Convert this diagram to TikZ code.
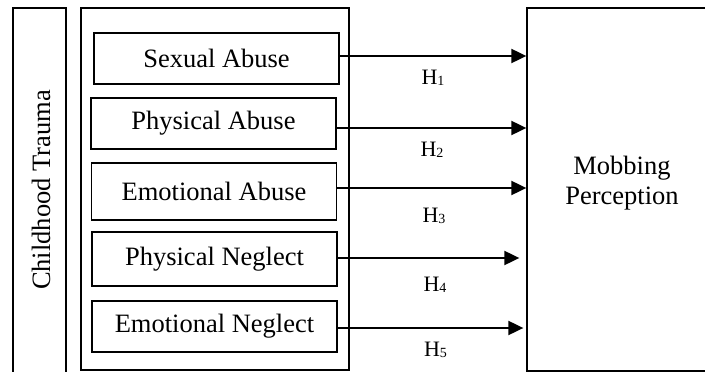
\documentclass[tikz,border=0pt]{standalone}
\usepackage{fontspec}
\setmainfont{Liberation Serif}
\usetikzlibrary{arrows.meta}
\tikzset{
  box/.style={draw, line width=1.3pt, inner sep=0pt, align=center},
  varbox/.style={box, minimum width=245pt},
  txt/.style={font=\fontsize{26.5}{30}\selectfont},
  hlab/.style={inner sep=0pt, font=\fontsize{22}{24}\selectfont},
  arr/.style={line width=2pt, -{Triangle[length=15pt,width=14pt]}}
}
\newcommand{\hyp}[1]{H\raisebox{-1.5pt}{\fontsize{14}{14}\selectfont #1}}
\begin{document}
\begin{tikzpicture}[x=1pt,y=-1pt]
\useasboundingbox (0,0) rectangle (705,372);
\clip (0,0) rectangle (705,372);
% left box (open at bottom)
\draw[line width=1.3pt] (13,390) |- (66,8) -- (66,390);
\node[txt, rotate=90, inner sep=0pt] (trauma) at (41,190) {Childhood Trauma};
% group box
\node[box, minimum width=268pt, minimum height=362pt] (grp) at (215,189) {};
% variable boxes
\node[varbox, txt, minimum height=51pt] (sa) at (216.5,58.5) {Sexual Abuse};
\node[varbox, txt, minimum height=51pt] (pa) at (213.5,123.5) {Physical Abuse};
\node[varbox, txt, minimum height=57pt] (ea) at (214,191.5) {Emotional Abuse};
\node[varbox, txt, minimum height=54pt] (pn) at (214.5,259) {Physical Neglect};
\node[varbox, txt, minimum height=51pt] (en) at (214.5,326.5) {Emotional Neglect};
% outcome box
\node[box, minimum width=193pt, minimum height=363pt] (mp) at (623.5,189.5) {};
\node[txt, align=center, inner sep=0pt] (mptext) at (622,183) {Mobbing\\Perception};
% arrows
\coordinate (s1) at ([yshift=2.5pt]sa.east);
\coordinate (s2) at ([yshift=-4.5pt]pa.east);
\coordinate (s3) at ([yshift=3.5pt]ea.east);
\coordinate (s4) at ([yshift=1pt]pn.east);
\coordinate (s5) at ([yshift=-1.5pt]en.east);
\draw[arr] (s1) -- (s1 -| mp.west);
\draw[arr] (s2) -- (s2 -| mp.west);
\draw[arr] (s3) -- (s3 -| mp.west);
\draw[arr, shorten >=7pt] (s4) -- (s4 -| mp.west);
\draw[arr, shorten >=3pt] (s5) -- (s5 -| mp.west);
% labels
\node[hlab] (h1) at (433,78) {\hyp{1}};
\node[hlab] (h2) at (432,150) {\hyp{2}};
\node[hlab] (h3) at (434,216) {\hyp{3}};
\node[hlab] (h4) at (435,285) {\hyp{4}};
\node[hlab] (h5) at (435.5,350) {\hyp{5}};
\end{tikzpicture}
\end{document}
